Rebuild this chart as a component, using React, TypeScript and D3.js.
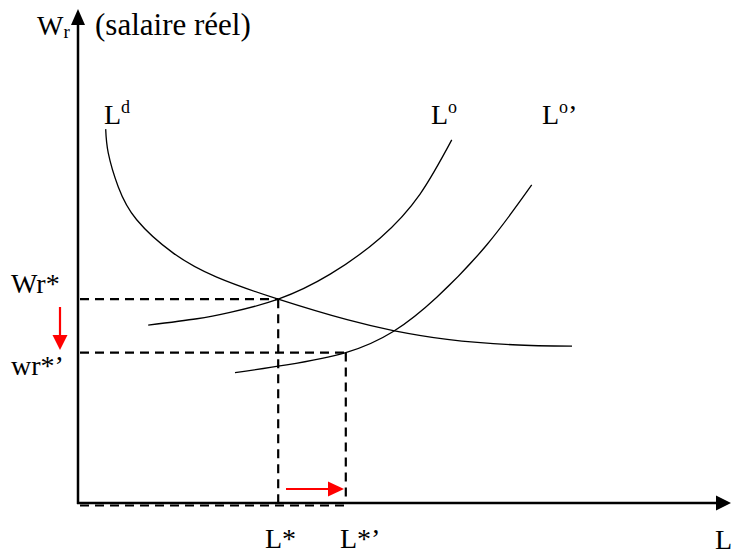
import React from "react";
import * as d3 from "d3";

// Labour market data (abstract units: L on x, real wage on y)
const ldCurve: [number, number][] = [
  [0.426, 7.63], [0.466, 7.14], [0.62, 6.45], [0.903, 5.78], [1.466, 5.1],
  [2.134, 4.61], [3.08, 4.16], [4.14, 3.74], [4.85, 3.52], [5.68, 3.34],
  [6.69, 3.23], [7.6, 3.2],
];
const loCurve: [number, number][] = [
  [1.08, 3.63], [1.83, 3.76], [2.34, 3.89], [3.08, 4.16], [3.88, 4.67],
  [4.65, 5.41], [5.26, 6.3], [5.75, 7.41],
];
const lo2Curve: [number, number][] = [
  [2.415, 2.66], [3.21, 2.82], [4.12, 3.07], [4.85, 3.5], [5.52, 4.2],
  [6.29, 5.27], [6.98, 6.49],
];
const equilibriumL = [3.08, 4.12];
const equilibriumW = [4.16, 3.07];
const wageLabels = ["Wr*", "wr*\u2019"];
const employmentLabels = ["L*", "L*\u2019"];

const W = 732;
const H = 554;
const FONT = "'Liberation Serif', 'Times New Roman', serif";

export default function App() {
  const x = d3.scaleLinear().domain([0, 10]).range([78, 728]);
  const y = d3.scaleLinear().domain([0, 10]).range([503, 13]);
  const line = d3
    .line<[number, number]>()
    .x((d) => x(d[0]))
    .y((d) => y(d[1]))
    .curve(d3.curveNatural);

  const x0 = x(0);
  const y0 = y(0);
  const fs = 28;

  return (
    <svg width={W} height={H} style={{ position: "absolute", left: 0, top: 0, background: "#fff" }}>
      <rect width={W} height={H} fill="#fff" />
      {/* curves */}
      {[ldCurve, loCurve, lo2Curve].map((c, i) => (
        <path key={i} d={line(c) || ""} fill="none" stroke="#000" strokeWidth={1.3} />
      ))}
      {/* dashed guides */}
      {equilibriumL.map((l, i) => (
        <g key={i} stroke="#000" strokeWidth={2.2} strokeDasharray="9 6" fill="none">
          <line x1={x0 + 2} y1={y(equilibriumW[i])} x2={x(l)} y2={y(equilibriumW[i])} />
          <line x1={x(l)} y1={y(equilibriumW[i])} x2={x(l)} y2={y0} />
        </g>
      ))}
      <line x1={x0 + 2} y1={y0 + 2.5} x2={x(equilibriumL[1])} y2={y0 + 2.5} stroke="#000" strokeWidth={2} strokeDasharray="9 6" />
      {/* axes */}
      <line x1={x0} y1={y0 + 1} x2={x0} y2={24} stroke="#000" strokeWidth={2.5} />
      <path d={`M${x0},9 L${x0 - 7},25 L${x0 + 7},25 Z`} fill="#000" />
      <line x1={x0 - 1} y1={y0} x2={717} y2={y0} stroke="#000" strokeWidth={2.5} />
      <path d={`M731,${y0} L716,${y0 - 7.5} L716,${y0 + 7.5} Z`} fill="#000" />
      {/* red arrows */}
      <line x1={60} y1={307} x2={60} y2={336} stroke="#f00" strokeWidth={2.2} />
      <path d={`M60,350 L52.5,335 L67.5,335 Z`} fill="#f00" />
      <line x1={286} y1={489} x2={329} y2={489} stroke="#f00" strokeWidth={2.2} />
      <path d={`M344,489 L328,481.5 L328,496.5 Z`} fill="#f00" />
      {/* texts */}
      <g fontFamily={FONT} fill="#000" fontSize={fs}>
        <text x={37} y={35}>
          W<tspan fontSize={19} dy={3}>r</tspan>
        </text>
        <text x={95} y={35} fontSize={31}>(salaire réel)</text>
        <text x={104} y={124}>
          L<tspan fontSize={18} dy={-11}>d</tspan>
        </text>
        <text x={431} y={124}>
          L<tspan fontSize={18} dy={-11}>o</tspan>
        </text>
        <text x={542} y={124}>
          L<tspan fontSize={18} dy={-11}>o</tspan>
          <tspan dy={11}>’</tspan>
        </text>
        <text x={11} y={293}>{wageLabels[0]}</text>
        <text x={11} y={375}>{wageLabels[1]}</text>
        <text x={265} y={548}>{employmentLabels[0]}</text>
        <text x={340} y={548}>{employmentLabels[1]}</text>
        <text x={715} y={549}>L</text>
      </g>
    </svg>
  );
}
